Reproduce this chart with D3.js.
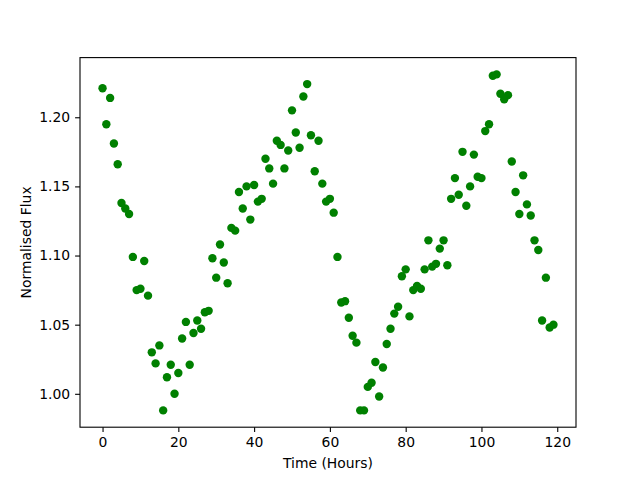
<!DOCTYPE html>
<html>
<head>
<meta charset="utf-8">
<script src="https://cdn.jsdelivr.net/npm/d3@7"></script>
<style>
  body { margin: 0; background: #fff; }
  text { font-family: "DejaVu Sans", sans-serif; fill: #000; }
</style>
</head>
<body>
<div id="chart"></div>
<script>
// time in hours (one reading per hour)
const hours = d3.range(0, 120);

const flux = [
  1.221, 1.195, 1.214, 1.181, 1.166, 1.138, 1.134, 1.130, 1.099, 1.075,
  1.076, 1.096, 1.071, 1.030, 1.022, 1.035, 0.988, 1.012, 1.021, 1.000,
  1.015, 1.040, 1.052, 1.021, 1.044, 1.053, 1.047, 1.059, 1.060, 1.098,
  1.084, 1.108, 1.095, 1.080, 1.120, 1.118, 1.146, 1.134, 1.150, 1.126,
  1.151, 1.139, 1.141, 1.170, 1.163, 1.152, 1.183, 1.180, 1.163, 1.176,
  1.205, 1.189, 1.178, 1.215, 1.224, 1.187, 1.161, 1.183, 1.152, 1.139,
  1.141, 1.131, 1.099, 1.066, 1.067, 1.055, 1.042, 1.037, 0.988, 0.988,
  1.005, 1.008, 1.023, 0.998, 1.019, 1.036, 1.047, 1.058, 1.063, 1.085,
  1.090, 1.056, 1.075, 1.078, 1.076, 1.090, 1.111, 1.092, 1.094, 1.105,
  1.111, 1.093, 1.141, 1.156, 1.144, 1.175, 1.136, 1.150, 1.173, 1.157,
  1.156, 1.190, 1.195, 1.230, 1.231, 1.217, 1.213, 1.216, 1.168, 1.146,
  1.130, 1.158, 1.137, 1.129, 1.111, 1.104, 1.053, 1.084, 1.048, 1.050
];

const xTicks = [0, 20, 40, 60, 80, 100, 120];
const yTicks = [1.00, 1.05, 1.10, 1.15, 1.20];

const width = 640, height = 480;
const margin = { left: 80, right: 64, top: 57.6, bottom: 52.8 };

const svg = d3.select("#chart").append("svg")
  .attr("width", width)
  .attr("height", height);

// matplotlib style 5% padding
function padded(ext) {
  const p = (ext[1] - ext[0]) * 0.05;
  return [ext[0] - p, ext[1] + p];
}

const x = d3.scaleLinear()
  .domain(padded(d3.extent(hours)))
  .range([margin.left, width - margin.right]);

const y = d3.scaleLinear()
  .domain(padded(d3.extent(flux)))
  .range([height - margin.bottom, margin.top]);

// points
svg.append("g")
  .selectAll("circle")
  .data(hours)
  .join("circle")
  .attr("cx", (d) => x(d))
  .attr("cy", (d, i) => y(flux[i]))
  .attr("r", 4.2)
  .attr("fill", "#008000");

// axes
const xAxis = svg.append("g")
  .attr("transform", `translate(0,${height - margin.bottom})`)
  .call(d3.axisBottom(x).tickValues(xTicks).tickSize(4.9).tickPadding(4.9).tickFormat(d3.format("d")));

const yAxis = svg.append("g")
  .attr("transform", `translate(${margin.left},0)`)
  .call(d3.axisLeft(y).tickValues(yTicks).tickSize(4.9).tickPadding(4.9).tickFormat(d3.format(".2f")));

[xAxis, yAxis].forEach((a) => {
  a.select(".domain").remove();
  a.selectAll("line").attr("stroke", "#000").attr("stroke-width", 1.1);
  a.selectAll("text").attr("font-size", "13.9px").attr("font-family", "DejaVu Sans");
});

// frame
svg.append("rect")
  .attr("x", margin.left)
  .attr("y", margin.top)
  .attr("width", width - margin.left - margin.right)
  .attr("height", height - margin.top - margin.bottom)
  .attr("fill", "none")
  .attr("stroke", "#000")
  .attr("stroke-width", 1.1);

// labels
svg.append("text")
  .attr("x", (margin.left + width - margin.right) / 2)
  .attr("y", 468)
  .attr("text-anchor", "middle")
  .attr("font-size", "13.9px")
  .text("Time (Hours)");

svg.append("text")
  .attr("transform", `translate(31,${(margin.top + height - margin.bottom) / 2}) rotate(-90)`)
  .attr("text-anchor", "middle")
  .attr("font-size", "13.9px")
  .text("Normalised Flux");
</script>
</body>
</html>
